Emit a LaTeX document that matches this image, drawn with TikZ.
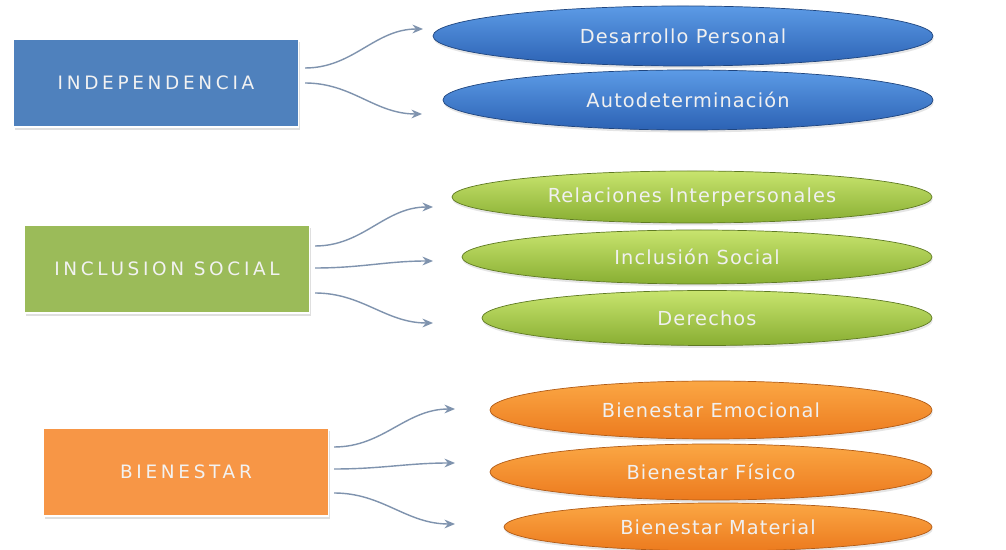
\documentclass[tikz,border=0pt]{standalone}
\usepackage{fontspec}
\setmainfont{DejaVu Sans}
\newfontfamily\boxfont[LetterSpace=20]{DejaVu Sans}
\newfontfamily\ovalfont[LetterSpace=6]{DejaVu Sans}
\usepackage{tikz}
\usetikzlibrary{calc,positioning,shapes.geometric,shadows,arrows.meta}
\usepackage{xcolor}

\definecolor{boxblue}{HTML}{4F81BD}
\definecolor{boxgreen}{HTML}{9BBB59}
\definecolor{boxorange}{HTML}{F79646}
\definecolor{arrowgray}{HTML}{7F93AE}
\definecolor{ovalbluetop}{HTML}{5C9BE6}
\definecolor{ovalbluebot}{HTML}{2C62B4}
\definecolor{ovalgreentop}{HTML}{C8E46E}
\definecolor{ovalgreenbot}{HTML}{88AE32}
\definecolor{ovalorangetop}{HTML}{FBA744}
\definecolor{ovalorangebot}{HTML}{EC7A1E}

\tikzset{
  mainbox/.style={rectangle, minimum width=5.7cm, minimum height=1.76cm, draw=white, line width=0.6pt,
    text=white!90!gray, font=\boxfont\fontsize{10.5}{12}\selectfont,
    drop shadow={shadow xshift=0.6pt, shadow yshift=-1.6pt, opacity=0.25}},
  oval/.style={ellipse, inner sep=0pt, text=white!88!gray, font=\ovalfont\fontsize{11}{13}\selectfont,
    drop shadow={shadow xshift=0.4pt, shadow yshift=-1.4pt, opacity=0.2}},
  blueoval/.style={oval, top color=ovalbluetop, bottom color=ovalbluebot, draw=ovalbluebot!70!black},
  greenoval/.style={oval, top color=ovalgreentop, bottom color=ovalgreenbot, draw=ovalgreenbot!70!black},
  orangeoval/.style={oval, top color=ovalorangetop, bottom color=ovalorangebot, draw=ovalorangebot!75!black},
  link/.style={draw=arrowgray, line width=0.8pt, -{Stealth[length=6pt,width=5pt]}}
}

\begin{document}
\begin{tikzpicture}

    \useasboundingbox (0,0) rectangle (20.12,11);
    \fill[white] (0,0) rectangle (20.12,11);

    % left boxes
    \node[mainbox, fill=boxblue] (indep) at (3.12,9.34) {INDEPENDENCIA};
    \node[mainbox, fill=boxgreen] (inclu) at (3.34,5.62) {INCLUSION SOCIAL};
    \node[mainbox, fill=boxorange] (bien) at (3.72,1.56) {BIENESTAR};

    % blue ovals
    \node[blueoval, minimum width=10cm, minimum height=1.2cm] (desa) at (13.66,10.28) {Desarrollo Personal};
    \node[blueoval, minimum width=9.8cm, minimum height=1.2cm] (auto) at (13.76,9.0) {Autodeterminación};

    % green ovals
    \node[greenoval, minimum width=9.6cm, minimum height=1.04cm] (rela) at (13.84,7.06) {Relaciones Interpersonales};
    \node[greenoval, minimum width=9.4cm, minimum height=1.08cm] (incl) at (13.94,5.86) {Inclusión Social};
    \node[greenoval, minimum width=9.0cm, minimum height=1.1cm] (dere) at (14.14,4.64) {Derechos};

    % orange ovals
    \node[orangeoval, minimum width=8.84cm, minimum height=1.16cm] (emoc) at (14.22,2.8) {Bienestar Emocional};
    \node[orangeoval, minimum width=8.84cm, minimum height=1.12cm] (fisi) at (14.22,1.56) {Bienestar Físico};
    \node[orangeoval, minimum width=8.56cm, minimum height=0.96cm] (mate) at (14.36,0.46) {Bienestar Material};

    % arrow ends
    \coordinate (t11) at (8.46,10.42);
    \coordinate (t12) at (8.44,8.72);
    \coordinate (t21) at (8.66,6.86);
    \coordinate (t22) at (8.66,5.78);
    \coordinate (t23) at (8.66,4.54);
    \coordinate (t31) at (9.1,2.82);
    \coordinate (t32) at (9.1,1.74);
    \coordinate (t33) at (9.1,0.52);

    % curved arrows
    \draw[link] ($(indep.east)+(0.12,0.3)$) to[out=0,in=180] (t11);
    \draw[link] ($(indep.east)+(0.12,0)$) to[out=0,in=180] (t12);

    \draw[link] ($(inclu.east)+(0.1,0.46)$) to[out=0,in=180] (t21);
    \draw[link] ($(inclu.east)+(0.1,0.02)$) to[out=0,in=180] (t22);
    \draw[link] ($(inclu.east)+(0.1,-0.48)$) to[out=0,in=180] (t23);

    \draw[link] ($(bien.east)+(0.1,0.5)$) to[out=0,in=180] (t31);
    \draw[link] ($(bien.east)+(0.1,0.06)$) to[out=0,in=180] (t32);
    \draw[link] ($(bien.east)+(0.1,-0.42)$) to[out=0,in=180] (t33);

\end{tikzpicture}
\end{document}
